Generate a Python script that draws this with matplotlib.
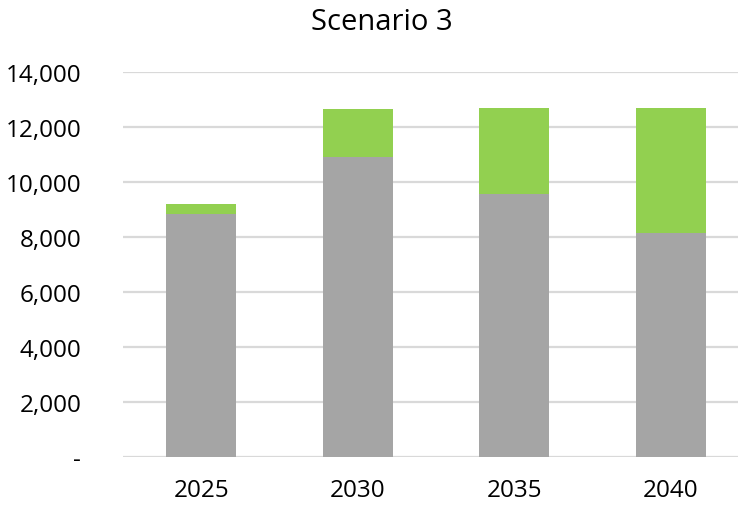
import numpy as np
import matplotlib
matplotlib.use('Agg')
import matplotlib.pyplot as plt
from matplotlib.ticker import FuncFormatter

plt.rcParams['font.family'] = ['Open Sans', 'DejaVu Sans']

years = ['2025', '2030', '2035', '2040']
base = [8840, 10900, 9560, 8150]
added = [360, 1750, 3130, 4540]

gray = '#A5A5A5'
green = '#92D050'

fig = plt.figure(figsize=(7.38, 5.06), dpi=100)
ax = fig.add_axes([123/738, 48/506, 626/738, 385/506])

x = np.arange(len(years))
ax.bar(x, base, width=0.45, color=gray, zorder=2)
ax.bar(x, added, width=0.45, bottom=base, color=green, zorder=2)

ax.set_xlim(-0.5, 3.5)
ax.set_ylim(0, 14000)
ax.set_yticks(np.arange(0, 14001, 2000))
ax.yaxis.set_major_formatter(FuncFormatter(lambda v, p: '-' if v == 0 else f'{v:,.0f}'))
ax.set_xticks(x)
ax.set_xticklabels(years)

ax.grid(axis='y', color='#D9D9D9', linewidth=1.6, zorder=0)
for s in ['top', 'right', 'left', 'bottom']:
    ax.spines[s].set_visible(False)
ax.tick_params(axis='both', length=0, labelsize=17.5, colors='black')
ax.tick_params(axis='y', pad=30)
ax.tick_params(axis='x', pad=15)

fig.text(382/738, 1 - 23/506, 'Scenario 3', ha='center', va='center', fontsize=21)

fig.savefig('out.png', dpi=100)
